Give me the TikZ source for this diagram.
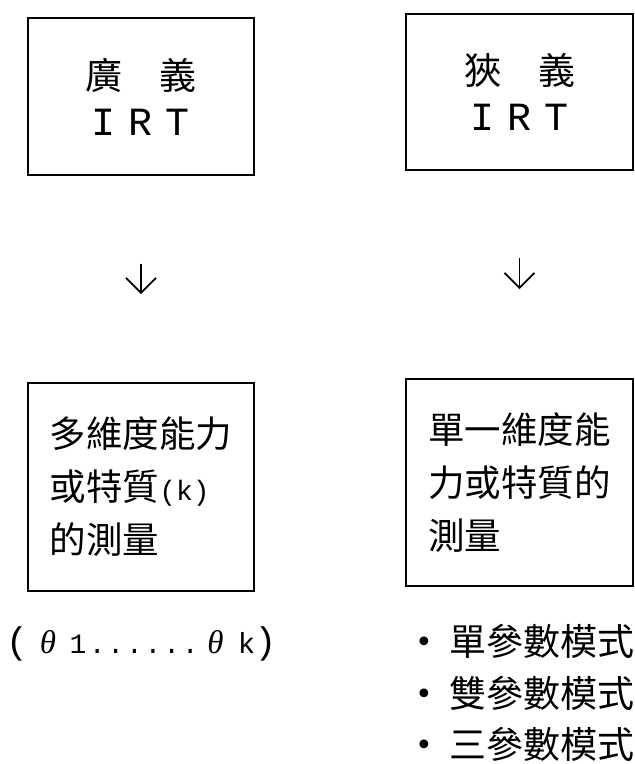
\documentclass[tikz,border=0pt]{standalone}
\usepackage{fontspec}
\setmainfont{Liberation Mono}
\newfontfamily\cjk{Noto Sans CJK TC}
\newfontfamily\mono{Liberation Mono}
\newfontfamily\grk{Liberation Serif}
\newfontfamily\dejavu{DejaVu Sans}
\usetikzlibrary{arrows.meta}
\newcommand{\cellbox}[2]{\makebox[#1]{#2}}
\newcommand{\bulletmark}{\makebox[36pt]{\raisebox{3pt}{\dejavu\fontsize{30}{30}\selectfont •}}\hspace{7pt}}
\begin{document}
\begin{tikzpicture}[x=1pt,y=-1pt,
  box/.style={draw, line width=1.8pt, inner sep=0pt},
  cjktop/.style={font=\cjk\fontsize{37}{46}\selectfont},
  cjkbody/.style={font=\cjk\fontsize{36.5}{53}\selectfont},
  flow/.style={line width=1.8pt, -{Straight Barb[length=15pt,width=30pt]}},
  plain/.style={inner sep=0pt, outer sep=0pt}
]
\useasboundingbox (0,0) rectangle (635,764);

% upper boxes
\node[box, minimum width=226pt, minimum height=157pt, align=center, cjktop] (b1) at (141,96.5)
  {廣　義\\{\mono\fontsize{40}{46}\selectfont I\hspace{13pt}R\hspace{13pt}T}};
\node[box, minimum width=227pt, minimum height=156pt, align=center, cjktop] (b2) at (519.5,92)
  {狹　義\\{\mono\fontsize{40}{46}\selectfont I\hspace{13pt}R\hspace{13pt}T}};

% lower boxes
\node[box, minimum width=226pt, minimum height=208pt, align=left, cjkbody] (b3) at (141,487)
  {多維度能力\\或特質{\mono\fontsize{28}{28}\selectfont(k)}\\的測量};
\node[box, minimum width=227pt, minimum height=207pt, align=left, cjkbody] (b4) at (519.5,482.5)
  {單一維度能\\力或特質的\\測量};

% arrows
\draw[flow, shorten <=88pt, shorten >=88pt] (b1) -- (b3);
\draw[flow, shorten <=87pt, shorten >=89pt] (b2) -- (b4);

% parameter text
\node[plain, anchor=base west] (theta) at (6,653)
  {\cellbox{22pt}{\fontsize{37}{37}\selectfont (}%
   \cellbox{40pt}{\grk\itshape\fontsize{33}{33}\selectfont θ}%
   \cellbox{20pt}{\fontsize{28}{28}\selectfont 1}%
   \cellbox{18.6pt}{\fontsize{28}{28}\selectfont .}\cellbox{18.6pt}{\fontsize{28}{28}\selectfont .}%
   \cellbox{18.6pt}{\fontsize{28}{28}\selectfont .}\cellbox{18.6pt}{\fontsize{28}{28}\selectfont .}%
   \cellbox{18.6pt}{\fontsize{28}{28}\selectfont .}\cellbox{18.6pt}{\fontsize{28}{28}\selectfont .}%
   \cellbox{32pt}{\grk\itshape\fontsize{33}{33}\selectfont θ}%
   \cellbox{30pt}{\fontsize{29}{29}\selectfont k}%
   \cellbox{8pt}{\fontsize{37}{37}\selectfont )}};

% model list
\node[plain, anchor=base west, font=\cjk\fontsize{37}{37}\selectfont] (m1) at (406,655) {\bulletmark 單參數模式};
\node[plain, anchor=base west, font=\cjk\fontsize{37}{37}\selectfont] (m2) at (406,707) {\bulletmark 雙參數模式};
\node[plain, anchor=base west, font=\cjk\fontsize{37}{37}\selectfont] (m3) at (406,758) {\bulletmark 三參數模式};
\end{tikzpicture}
\end{document}
